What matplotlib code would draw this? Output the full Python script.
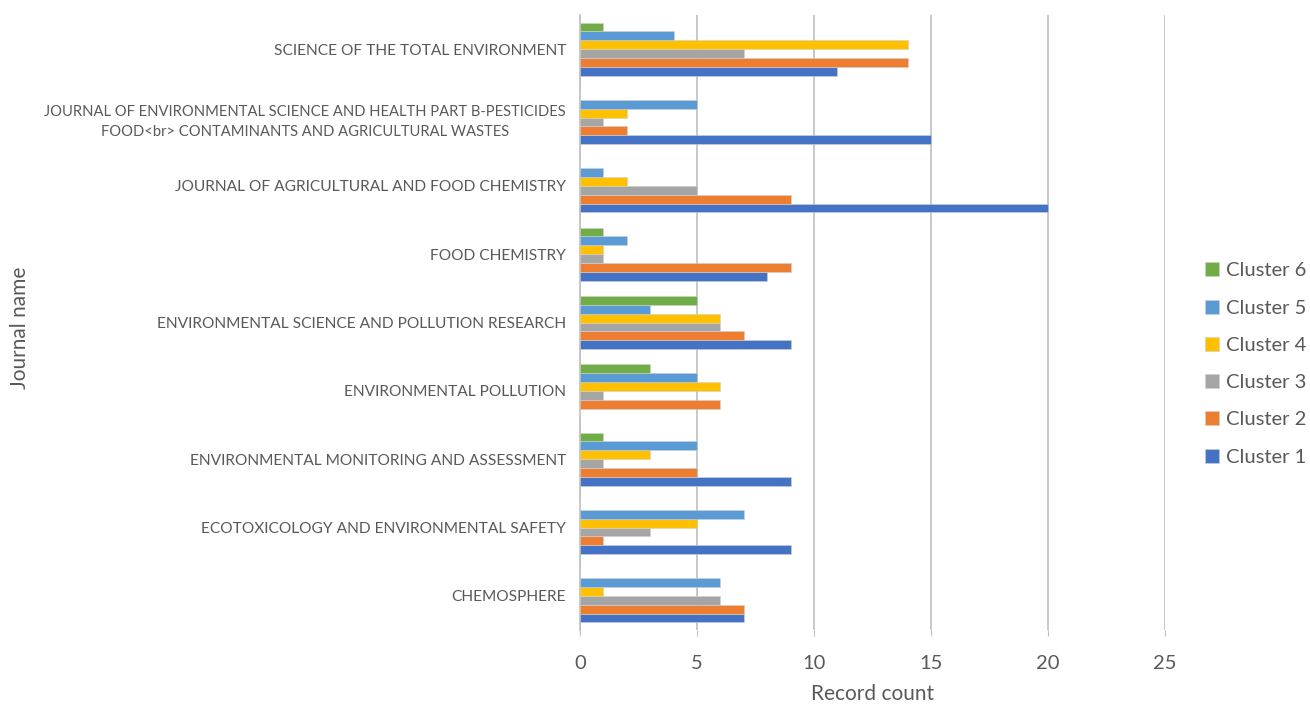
import matplotlib.pyplot as plt
import numpy as np

plt.rcParams['font.family'] = ['Lato', 'DejaVu Sans']

journals = [
    "CHEMOSPHERE",
    "ECOTOXICOLOGY AND ENVIRONMENTAL SAFETY",
    "ENVIRONMENTAL MONITORING AND ASSESSMENT",
    "ENVIRONMENTAL POLLUTION",
    "ENVIRONMENTAL SCIENCE AND POLLUTION RESEARCH",
    "FOOD CHEMISTRY",
    "JOURNAL OF AGRICULTURAL AND FOOD CHEMISTRY",
    "JOURNAL OF ENVIRONMENTAL SCIENCE AND HEALTH PART B-PESTICIDES\nFOOD<br> CONTAMINANTS AND AGRICULTURAL WASTES",
    "SCIENCE OF THE TOTAL ENVIRONMENT",
]
cluster_names = ["Cluster 1", "Cluster 2", "Cluster 3", "Cluster 4", "Cluster 5", "Cluster 6"]
cluster1 = [7, 9, 9, 0, 9, 8, 20, 15, 11]
cluster2 = [7, 1, 5, 6, 7, 9, 9, 2, 14]
cluster3 = [6, 3, 1, 1, 6, 1, 5, 1, 7]
cluster4 = [1, 5, 3, 6, 6, 1, 2, 2, 14]
cluster5 = [6, 7, 5, 5, 3, 2, 1, 5, 4]
cluster6 = [0, 0, 1, 3, 5, 1, 0, 0, 1]
series = [cluster1, cluster2, cluster3, cluster4, cluster5, cluster6]
colors = ["#4472C4", "#ED7D31", "#A5A5A5", "#FFC000", "#5B9BD5", "#70AD47"]

fig = plt.figure(figsize=(13.1, 7.06), dpi=100)
ax = fig.add_axes([580 / 1310, 1 - 630 / 706, (1165 - 580) / 1310, 615 / 706])

y = np.arange(len(journals))
h = 0.13
for i, (vals, c) in enumerate(zip(series, colors)):
    ax.barh(y + (i - 2.5) * h, vals, height=h, color=c, label=cluster_names[i],
            edgecolor="#d0d0d0", linewidth=0.4, zorder=3)

ax.set_xlim(0, 25)
ax.set_ylim(-0.5, len(journals) - 0.5)
ax.set_xticks([0, 5, 10, 15, 20, 25])
ax.set_yticks(y)
ax.set_yticklabels(journals, fontsize=11.2, color="#595959", multialignment="center",
                   linespacing=1.5)
# the long two-line name needs a little less room
ax.get_yticklabels()[7].set_fontsize(10.6)
ax.tick_params(axis="y", length=0, pad=10)
ax.tick_params(axis="x", labelsize=14.5, labelcolor="#595959", color="#bfbfbf", length=4, pad=14)
ax.grid(axis="x", color="#bfbfbf", linewidth=1.2, zorder=0)
for s in ["top", "right", "bottom"]:
    ax.spines[s].set_visible(False)
ax.spines["left"].set_color("#bfbfbf")
ax.spines["left"].set_linewidth(1.2)

ax.set_xlabel("Record count", fontsize=15, color="#595959", labelpad=9)
fig.text(20 / 1310, 1 - 328 / 706, "Journal name", rotation=90, fontsize=15,
         color="#595959", ha="center", va="center")

handles, labels = ax.get_legend_handles_labels()
fig.legend(handles[::-1], labels[::-1], loc="center left",
           bbox_to_anchor=(1187 / 1310, 1 - 364 / 706), frameon=False,
           fontsize=14.5, labelcolor="#595959", handlelength=0.7, handleheight=0.7,
           handletextpad=0.35, labelspacing=1.0)

fig.savefig("out.png", dpi=100)
